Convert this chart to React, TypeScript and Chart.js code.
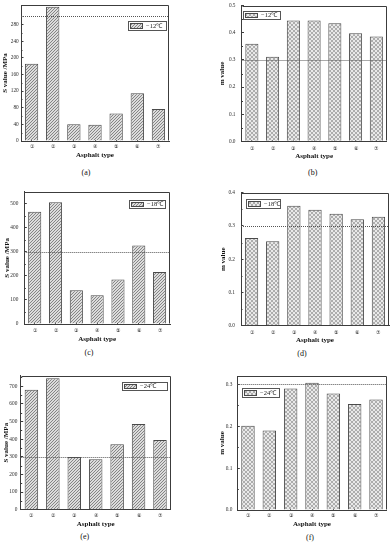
import React, { useEffect, useRef } from 'react';
import { Chart, registerables } from 'chart.js';
Chart.register(...registerables);

// ---------- data ----------
const categories = ['①', '②', '③', '④', '⑤', '⑥', '⑦'];
const sValueMinus12 = [186, 323, 40, 39, 66, 115, 77];
const mValueMinus12 = [0.36, 0.312, 0.445, 0.445, 0.435, 0.398, 0.386];
const sValueMinus18 = [467, 506, 140, 120, 185, 326, 216];
const mValueMinus18 = [0.264, 0.254, 0.361, 0.349, 0.337, 0.32, 0.328];
const sValueMinus24 = [680, 746, 299, 286, 371, 486, 395];
const mValueMinus24 = [0.201, 0.19, 0.29, 0.304, 0.278, 0.253, 0.264];
const temperatureLabels = ['−12℃', '−18℃', '−24℃'];
const sThreshold = 300;
const mThreshold = 0.3;
const xAxisTitle = 'Asphalt type';
const sAxisTitle = 'S value /MPa';
const mAxisTitle = 'm value';
const captions = ['(a)', '(b)', '(c)', '(d)', '(e)', '(f)'];

// ---------- layout ----------
const SERIF = "'Liberation Serif', 'Times New Roman', serif";

type Spec = {
  values: number[]; label: string; kind: 's' | 'm'; caption: string;
  max: number; step: number; decimals: number;
  col: 0 | 1; top: number;
  L: number; R: number; T: number; B: number;
  yTitleX: number; xTitleY: number; xLabelY: number; yLabelRight: number;
  capX: number; capY: number;
  legend: { side: 'left' | 'right'; dx: number; dy: number; w: number; h: number };
};

const panels: Spec[] = [
  { values: sValueMinus12, label: temperatureLabels[0], kind: 's', caption: captions[0], max: 327, step: 40, decimals: 0,
    col: 0, top: 0, L: 21, R: 169, T: 5, B: 141, yTitleX: 5.3, xTitleY: 155, xLabelY: 147, yLabelRight: 18.7, capX: 86, capY: 173.3,
    legend: { side: 'right', dx: 3, dy: 16, w: 38, h: 9 } },
  { values: mValueMinus12, label: temperatureLabels[0], kind: 'm', caption: captions[1], max: 0.5, step: 0.1, decimals: 1,
    col: 1, top: 0, L: 241.5, R: 386.7, T: 5.7, B: 141.3, yTitleX: 222.5, xTitleY: 156, xLabelY: 148.3, yLabelRight: 235.5, capX: 312.7, capY: 173.3,
    legend: { side: 'left', dx: 1.6, dy: 5.3, w: 37, h: 8 } },
  { values: sValueMinus18, label: temperatureLabels[1], kind: 's', caption: captions[2], max: 550, step: 100, decimals: 0,
    col: 0, top: 180, L: 24.3, R: 170, T: 191.7, B: 324, yTitleX: 7.3, xTitleY: 338.7, xLabelY: 330.7, yLabelRight: 18.3, capX: 89, capY: 353,
    legend: { side: 'right', dx: 5, dy: 8.3, w: 36, h: 8 } },
  { values: mValueMinus18, label: temperatureLabels[1], kind: 'm', caption: captions[3], max: 0.4, step: 0.1, decimals: 1,
    col: 1, top: 180, L: 241, R: 389, T: 192.7, B: 325.7, yTitleX: 223, xTitleY: 340, xLabelY: 332.7, yLabelRight: 235, capX: 302, capY: 354,
    legend: { side: 'left', dx: 4.7, dy: 6.3, w: 34, h: 8.7 } },
  { values: sValueMinus24, label: temperatureLabels[2], kind: 's', caption: captions[4], max: 760, step: 100, decimals: 0,
    col: 0, top: 365, L: 20.7, R: 170.7, T: 375.7, B: 509.7, yTitleX: 6.2, xTitleY: 524.3, xLabelY: 515.7, yLabelRight: 17.3, capX: 84.7, capY: 537.3,
    legend: { side: 'right', dx: 4, dy: 6, w: 44.7, h: 7.5 } },
  { values: mValueMinus24, label: temperatureLabels[2], kind: 'm', caption: captions[5], max: 0.32, step: 0.1, decimals: 1,
    col: 1, top: 365, L: 237.3, R: 386.7, T: 376, B: 510, yTitleX: 221.7, xTitleY: 524.3, xLabelY: 515.7, yLabelRight: 232.3, capX: 310, capY: 537.7,
    legend: { side: 'left', dx: 4.4, dy: 12.3, w: 37.3, h: 9.4 } },
];

function geometry(s: Spec) {
  const cx = s.col === 0 ? 0 : 195;
  const cw = s.col === 0 ? 195 : 196;
  const cy = s.top;
  const ch = Math.ceil(s.xTitleY + 4.2 - cy) + 1;
  return { cx, cw, cy, ch };
}

function makeHatch(): CanvasPattern {
  const c = document.createElement('canvas');
  c.width = 3; c.height = 3;
  const g = c.getContext('2d')!;
  g.fillStyle = '#dcdcdc'; g.fillRect(0, 0, 3, 3);
  g.fillStyle = '#858585';
  for (let x = 0; x < 3; x++) g.fillRect(x, 2 - x, 1, 1);
  return g.createPattern(c, 'repeat')!;
}

function makeCheck(): CanvasPattern {
  const c = document.createElement('canvas');
  c.width = 4; c.height = 4;
  const g = c.getContext('2d')!;
  g.fillStyle = '#e9e9e9'; g.fillRect(0, 0, 4, 4);
  g.fillStyle = '#adadad';
  g.fillRect(0, 0, 2, 2); g.fillRect(2, 2, 2, 2);
  return g.createPattern(c, 'repeat')!;
}

const framePlugin = {
  id: 'frameDecor',
  afterDraw(chart: any, _args: any, opts: any) {
    const { ctx, chartArea: a, scales } = chart;
    const y = scales.y;
    ctx.save();
    // box
    ctx.strokeStyle = '#3c3c3c';
    ctx.lineWidth = 1;
    const l = Math.round(a.left) + 0.5, t = Math.round(a.top) + 0.5;
    const r = Math.round(a.right) - 0.5, b = Math.round(a.bottom) - 0.5;
    ctx.beginPath();
    ctx.moveTo(l, t); ctx.lineTo(r, t); ctx.lineTo(r, b);
    ctx.stroke();
    // minor ticks
    ctx.beginPath();
    for (let v = opts.step / 2; v < y.max; v += opts.step) {
      const p = Math.round(y.getPixelForValue(v)) + 0.5;
      ctx.moveTo(a.left, p); ctx.lineTo(a.left + 1.5, p);
    }
    ctx.stroke();
    // threshold line
    const tp = Math.round(y.getPixelForValue(opts.threshold)) + 0.5;
    ctx.strokeStyle = '#555';
    ctx.setLineDash([1, 1]);
    ctx.beginPath();
    ctx.moveTo(a.left, tp); ctx.lineTo(a.right, tp);
    ctx.stroke();
    ctx.setLineDash([]);
    // legend box
    const lg = opts.legend;
    const ds = chart.data.datasets[0];
    const x0 = lg.side === 'right' ? a.right - lg.dx - lg.w : a.left + lg.dx;
    const y0 = a.top + lg.dy;
    ctx.fillStyle = '#fff';
    ctx.fillRect(x0, y0, lg.w, lg.h);
    ctx.strokeStyle = '#555';
    ctx.strokeRect(Math.round(x0) + 0.5, Math.round(y0) + 0.5, Math.round(lg.w), Math.round(lg.h));
    const sw = 13;
    ctx.fillStyle = ds.backgroundColor;
    ctx.fillRect(Math.round(x0) + 2, Math.round(y0) + 2, sw, Math.round(lg.h) - 3);
    ctx.strokeStyle = '#4a4a4a';
    ctx.strokeRect(Math.round(x0) + 2.5, Math.round(y0) + 2.5, sw - 1, Math.round(lg.h) - 4);
    ctx.fillStyle = '#1a1a1a';
    ctx.font = `6.5px ${SERIF}`;
    ctx.textBaseline = 'middle';
    ctx.textAlign = 'left';
    ctx.fillText(ds.label, Math.round(x0) + sw + 5, y0 + lg.h / 2 + 0.5);
    ctx.restore();
  },
};

function buildConfig(s: Spec, g: ReturnType<typeof geometry>, pattern: CanvasPattern): any {
  const tickFont = { family: SERIF, size: 5.3 };
  const xTitleBottom = g.cy + g.ch - s.xTitleY - 4.2;
  const step = s.step;
  return {
    type: 'bar',
    data: {
      labels: categories,
      datasets: [{
        label: s.label,
        data: s.values,
        backgroundColor: pattern,
        borderColor: '#4a4a4a',
        borderWidth: 1,
        barPercentage: 0.63,
        categoryPercentage: 1,
      }],
    },
    options: {
      responsive: false,
      animation: false,
      devicePixelRatio: 1,
      events: [],
      layout: { padding: { left: 0, top: s.T - g.cy, right: g.cx + g.cw - s.R, bottom: 0 } },
      plugins: {
        legend: { display: false },
        tooltip: { enabled: false },
        title: { display: false },
        frameDecor: {
          step,
          threshold: s.kind === 's' ? sThreshold : mThreshold,
          legend: s.legend,
        },
      },
      scales: {
        x: {
          type: 'category',
          offset: true,
          z: 1,
          grid: { offset: false, drawOnChartArea: false, drawTicks: true, tickLength: -2, color: '#3c3c3c', lineWidth: 1 },
          border: { display: true, color: '#3c3c3c', width: 1 },
          ticks: { font: tickFont, color: '#2a2a2a', padding: s.xLabelY - s.B - 1.3, maxRotation: 0, autoSkip: false },
          title: { display: true, text: xAxisTitle, font: { family: SERIF, size: 7, weight: 'bold' }, color: '#111', padding: { top: 0, bottom: xTitleBottom } },
          afterFit: (sc: any) => { sc.height = g.cy + g.ch - s.B; sc.paddingLeft = 0; sc.paddingRight = 0; },
        },
        y: {
          type: 'linear',
          min: 0,
          max: s.max,
          z: 1,
          grid: { drawOnChartArea: false, drawTicks: true, tickLength: -2.5, color: '#3c3c3c', lineWidth: 1 },
          border: { display: true, color: '#3c3c3c', width: 1 },
          ticks: {
            stepSize: step,
            font: tickFont,
            color: '#2a2a2a',
            padding: s.L - s.yLabelRight + 2.5,
            callback: (v: any) => Number(v).toFixed(s.decimals),
          },
          title: {
            display: true,
            text: s.kind === 's' ? sAxisTitle : mAxisTitle,
            font: { family: SERIF, size: 7, weight: 'bold' },
            color: '#111',
            padding: { top: s.yTitleX - g.cx - 4.2, bottom: 0 },
          },
          afterBuildTicks: (sc: any) => {
            sc.ticks = sc.ticks.filter((t: any) => Math.abs(t.value / step - Math.round(t.value / step)) < 1e-6);
          },
          afterFit: (sc: any) => { sc.width = s.L - g.cx; sc.paddingTop = 0; sc.paddingBottom = 0; },
        },
      },
    },
    plugins: [framePlugin],
  };
}

function Panel({ spec }: { spec: Spec }) {
  const ref = useRef<HTMLCanvasElement>(null);
  const g = geometry(spec);
  useEffect(() => {
    const pattern = spec.kind === 's' ? makeHatch() : makeCheck();
    const chart = new Chart(ref.current!, buildConfig(spec, g, pattern));
    return () => chart.destroy();
  }, []);
  return (
    <>
      <canvas
        ref={ref}
        width={g.cw}
        height={g.ch}
        style={{ position: 'absolute', left: g.cx, top: g.cy, width: g.cw, height: g.ch }}
      />
      <div
        style={{
          position: 'absolute', left: spec.capX, top: spec.capY, transform: 'translate(-50%, -50%)',
          font: `8px ${SERIF}`, color: '#111', whiteSpace: 'nowrap', lineHeight: 1,
        }}
      >
        {spec.caption}
      </div>
    </>
  );
}

export default function App() {
  return (
    <div style={{ position: 'fixed', left: 0, top: 0, width: 391, height: 550, background: '#fff', overflow: 'hidden' }}>
      {panels.map((p, i) => <Panel key={i} spec={p} />)}
    </div>
  );
}
